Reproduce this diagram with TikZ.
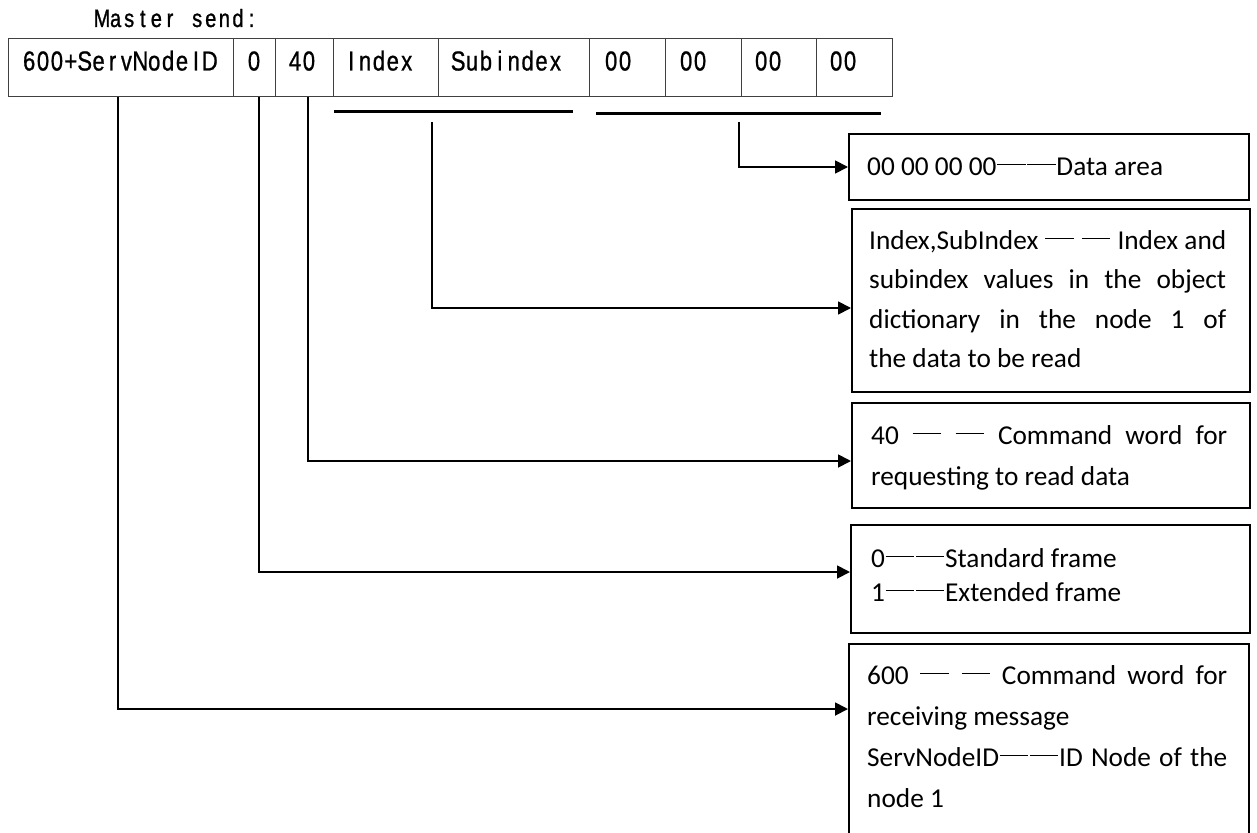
\documentclass[tikz,border=0pt]{standalone}
\usepackage{fontspec}
\setmainfont{Carlito}
\newfontfamily\tabfont[FakeStretch=0.8,FakeBold=0.8]{Liberation Sans}
\newfontfamily\ttlfont[FakeStretch=0.8,FakeBold=1]{Liberation Sans}
\usetikzlibrary{arrows.meta}
\newcommand\cd{\makebox[1.1em]{\rule[0.36em]{1.05em}{0.8pt}}}
\newcommand\sline[1]{\makebox[\linewidth][s]{#1}}
% fixed-pitch setting of a word (half-width cells)
\newdimen\monow
\newcommand\mono[2]{\monow=#1\relax\monoi#2\relax}
\def\monoi#1{\ifx#1\relax\else\makebox[\monow]{#1}\expandafter\monoi\fi}
\begin{document}
\begin{tikzpicture}[x=1pt,y=-1pt,
  cell/.style={draw=black!75, line width=1.3pt, anchor=north west, minimum height=58pt, inner sep=0pt},
  ctext/.style={anchor=base west, inner sep=0pt, font=\tabfont\fontsize{27.5}{27.5}\selectfont},
  box/.style={draw=black, line width=1.8pt, anchor=north west, inner sep=0pt},
  btext/.style={anchor=base west, inner sep=0pt, font=\fontsize{27.3}{40}\selectfont},
  conn/.style={draw=black, line width=1.8pt},
  arr/.style={conn, -{Triangle[length=13pt,width=13pt]}},
  bar/.style={draw=black, line width=3pt}]
\useasboundingbox (0,0) rectangle (1257,832);
\clip (0,0) rectangle (1257,832);

% title
\node[anchor=base west, inner sep=0pt, font=\ttlfont\fontsize{25}{25}\selectfont] (title) at (95,27) {\mono{13.6pt}{Master}\hspace{13.6pt}\mono{13.6pt}{send:}};

% table cells
\node[cell, minimum width=225pt] (c1) at (8,38) {};
\node[cell, minimum width=42pt]  (c2) at (233,38) {};
\node[cell, minimum width=58pt]  (c3) at (275,38) {};
\node[cell, minimum width=105pt] (c4) at (333,38) {};
\node[cell, minimum width=151pt] (c5) at (438,38) {};
\node[cell, minimum width=76pt]  (c6) at (589,38) {};
\node[cell, minimum width=76pt]  (c7) at (665,38) {};
\node[cell, minimum width=75pt]  (c8) at (741,38) {};
\node[cell, minimum width=76pt]  (c9) at (816,38) {};

\node[ctext] (t1) at (22,70.5) {\mono{13.9pt}{600+ServNodeID}};
\node[ctext, anchor=base] (t2) at (254,70.5) {0};
\node[ctext, anchor=base] (t3) at (302,70.5) {\mono{13.9pt}{40}};
\node[ctext] (t4) at (344,70.5) {\mono{13.9pt}{Index}};
\node[ctext] (t5) at (451,70.5) {\mono{13.9pt}{Subindex}};
\node[ctext] (t6) at (604,70.5) {\mono{13.9pt}{00}};
\node[ctext] (t7) at (679,70.5) {\mono{13.9pt}{00}};
\node[ctext] (t8) at (754,70.5) {\mono{13.9pt}{00}};
\node[ctext] (t9) at (829,70.5) {\mono{13.9pt}{00}};

% description boxes
\node[box, minimum width=400pt, minimum height=66pt]  (bData) at (848,133) {};
\node[box, minimum width=398pt, minimum height=183pt] (bIdx)  at (851,208) {};
\node[box, minimum width=398pt, minimum height=105pt] (b40)   at (851,402) {};
\node[box, minimum width=399pt, minimum height=108pt] (b0)    at (850,524) {};
\node[box, minimum width=400pt, minimum height=240pt] (b600)  at (848,643) {};

\node[btext] (xData) at (867,175) {00 00 00 00\cd\cd Data area};
\node[btext] (xIdx) at (869,249) {\parbox[t]{357pt}{\fontsize{27.3}{39.5}\selectfont
  \sline{Index,SubIndex \cd{} \cd{} Index and}\\
  \sline{subindex values in the object}\\
  \sline{dictionary in the node 1 of}\\
  the data to be read}};
\node[btext] (x40) at (871,444) {\parbox[t]{356pt}{\fontsize{27.3}{41}\selectfont
  \sline{40 \cd{} \cd{} Command word for}\\
  requesting to read data}};
\node[btext] (x0) at (871,567) {\parbox[t]{356pt}{\fontsize{27.3}{34}\selectfont
  0\cd\cd Standard frame\\
  1\cd\cd Extended frame}};
\node[btext] (x600) at (867,684) {\parbox[t]{360pt}{\fontsize{27.3}{41}\selectfont
  \sline{600 \cd{} \cd{} Command word for}\\
  receiving message\\
  \sline{ServNodeID\cd\cd ID Node of the}\\
  node 1}};

% grouping bars
\coordinate (iL) at (334,112);
\coordinate (iR) at (573,112);
\coordinate (dL) at (596,114);
\coordinate (dR) at (881,114);
\draw[bar] (iL) -- (iR);
\draw[bar] (dL) -- (dR);

% connector start points and levels
\coordinate (s600) at (118,97);
\coordinate (s0) at (259,97);
\coordinate (s40) at (308,97);
\coordinate (sIdx) at (432,122);
\coordinate (sData) at (739,122);
\coordinate (y600) at (0,709);
\coordinate (y0) at (0,572);
\coordinate (y40) at (0,461);
\coordinate (yIdx) at (0,308);
\coordinate (yData) at (0,167);

\draw[arr] (s600) |- (b600.west |- y600);
\draw[arr] (s0) |- (b0.west |- y0);
\draw[arr] (s40) |- (b40.west |- y40);
\draw[arr] (sIdx) |- (bIdx.west |- yIdx);
\draw[arr] (sData) |- (bData.west |- yData);
\end{tikzpicture}
\end{document}
